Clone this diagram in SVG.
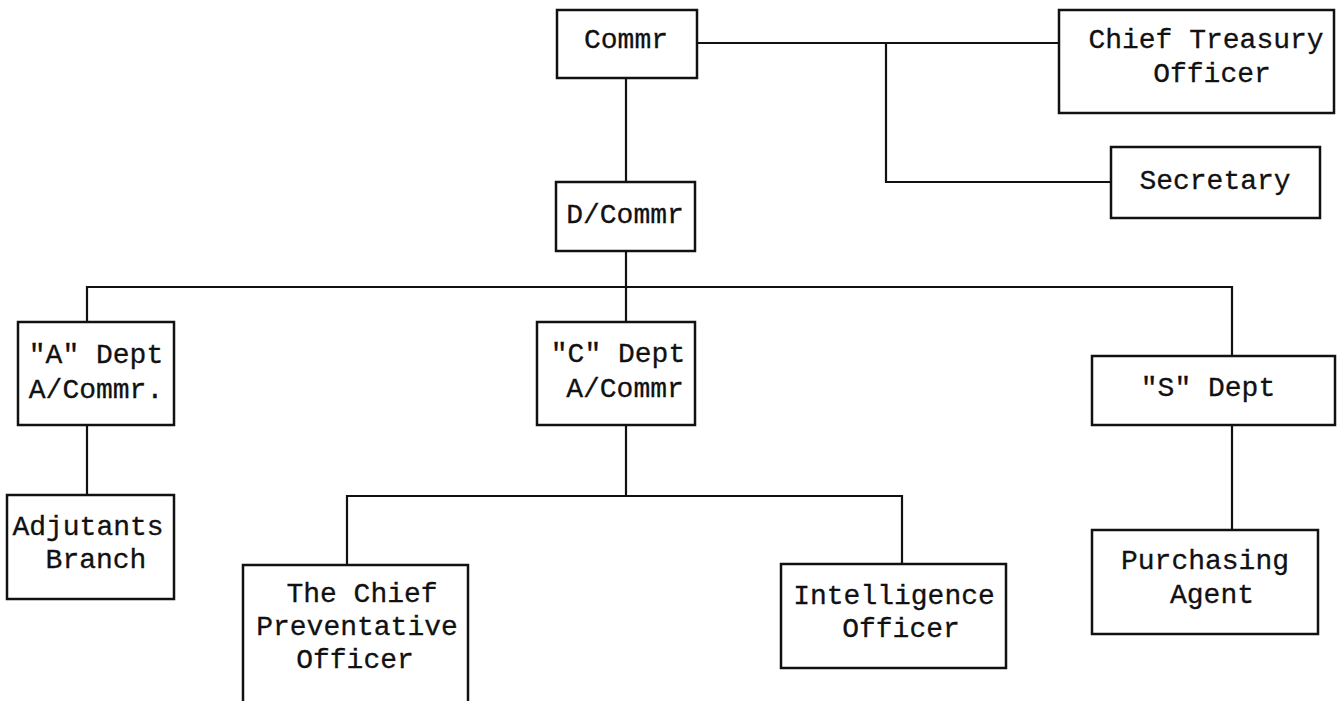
<svg xmlns="http://www.w3.org/2000/svg" width="1339" height="701" viewBox="0 0 1339 701">
<style>
.box{fill:#fff;stroke:#111;stroke-width:2.5}
.ln{fill:none;stroke:#111;stroke-width:2.2}
text{font-family:"Liberation Mono","Courier New",monospace;font-size:28px;fill:#111;stroke:#111;stroke-width:0.3;text-anchor:middle}
</style>
<rect width="1339" height="701" fill="#fff"/>
<g id="connectors">
<path class="ln" d="M697 43 H1059"/>
<path class="ln" d="M886 43 V182 H1111"/>
<path class="ln" d="M626 78 V182"/>
<path class="ln" d="M626 251 V322"/>
<path class="ln" d="M87 322 V287 H1232 V356"/>
<path class="ln" d="M87 425 V495"/>
<path class="ln" d="M626 425 V496"/>
<path class="ln" d="M347 565 V496 H902 V564"/>
<path class="ln" d="M1232 425 V530"/>
</g>
<g id="commr"><rect class="box" x="557" y="10" width="140" height="68"/><text x="626" y="48">Commr</text></g>
<g id="chief-treasury"><rect class="box" x="1059" y="10" width="275" height="103"/><text x="1206" y="48">Chief Treasury</text><text x="1212" y="82">Officer</text></g>
<g id="secretary"><rect class="box" x="1111" y="147" width="209" height="71"/><text x="1215" y="189">Secretary</text></g>
<g id="dcommr"><rect class="box" x="556" y="182" width="139" height="69"/><text x="625" y="223">D/Commr</text></g>
<g id="a-dept"><rect class="box" x="18" y="322" width="156" height="103"/><text x="96" y="363">"A" Dept</text><text x="96" y="398">A/Commr.</text></g>
<g id="c-dept"><rect class="box" x="537" y="322" width="158" height="103"/><text x="618" y="362">"C" Dept</text><text x="625" y="397">A/Commr</text></g>
<g id="s-dept"><rect class="box" x="1092" y="356" width="243" height="69"/><text x="1208" y="396">"S" Dept</text></g>
<g id="adjutants"><rect class="box" x="7" y="495" width="167" height="104"/><text x="88" y="535">Adjutants</text><text x="96" y="568">Branch</text></g>
<g id="preventative"><rect class="box" x="243" y="565" width="225" height="150"/><text x="362" y="602">The Chief</text><text x="357" y="635">Preventative</text><text x="355" y="668">Officer</text></g>
<g id="intelligence"><rect class="box" x="781" y="564" width="225" height="104"/><text x="894" y="604">Intelligence</text><text x="901" y="637">Officer</text></g>
<g id="purchasing"><rect class="box" x="1092" y="530" width="226" height="104"/><text x="1205" y="569">Purchasing</text><text x="1212" y="603">Agent</text></g>
</svg>
